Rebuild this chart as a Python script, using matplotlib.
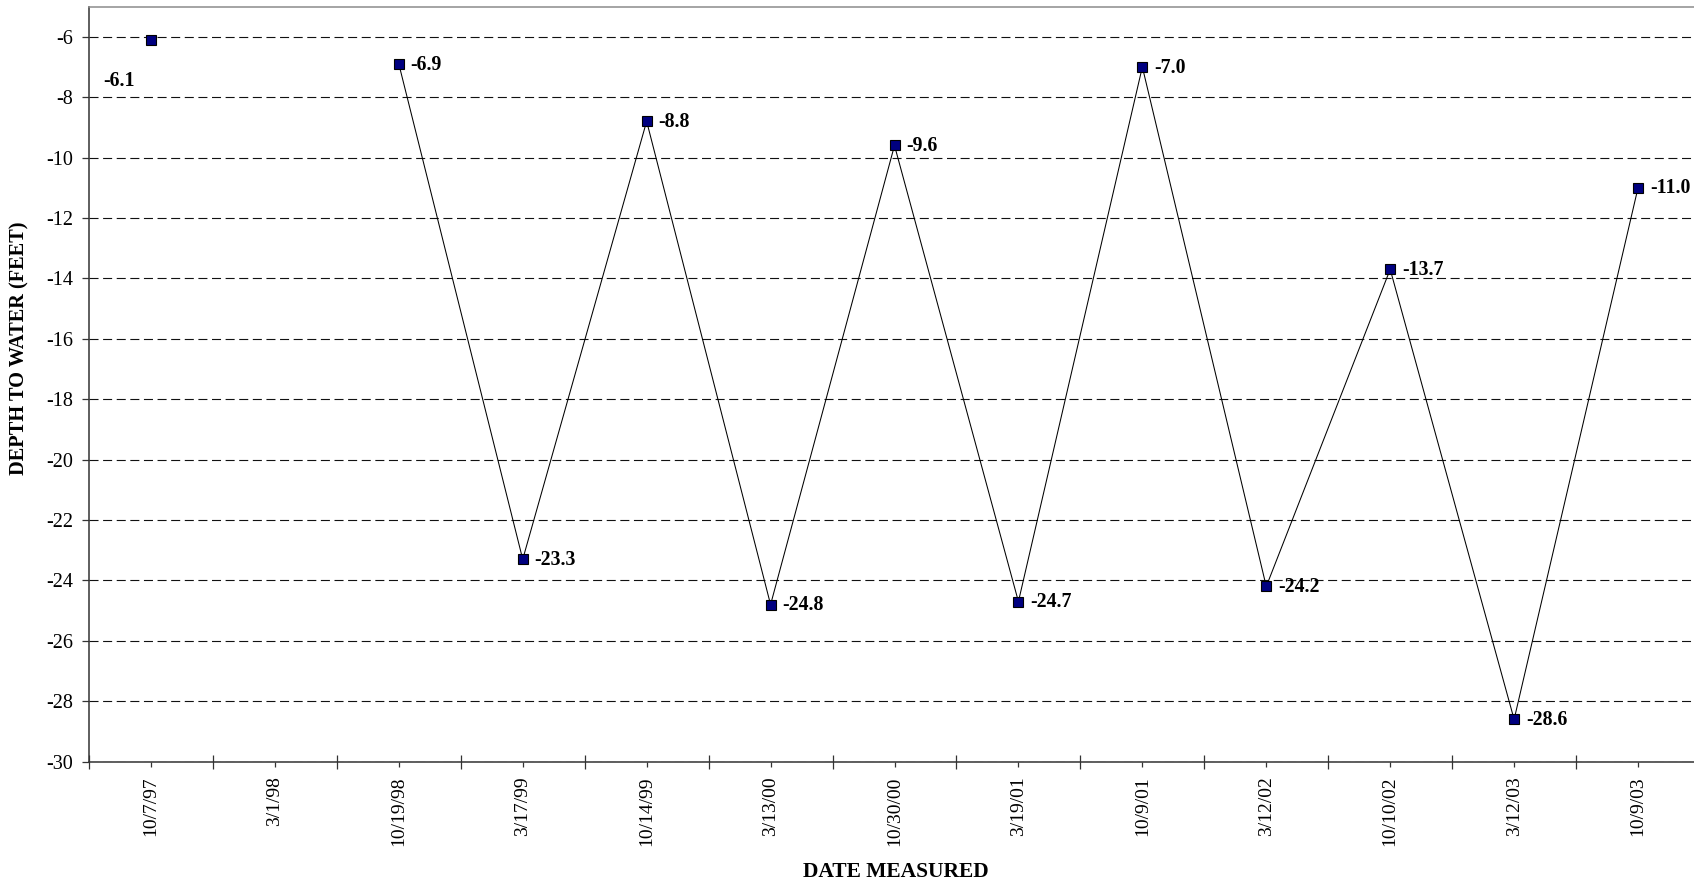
import numpy as np
import matplotlib
matplotlib.use("Agg")
import matplotlib.pyplot as plt
from matplotlib.ticker import FixedLocator, NullFormatter

plt.rcParams["font.family"] = ["Liberation Serif", "DejaVu Serif"]
plt.rcParams["lines.scale_dashes"] = False

# Measurement dates (categorical) and depth to water in feet; 3/1/98 has no reading
dates = ["10/7/97", "3/1/98", "10/19/98", "3/17/99", "10/14/99", "3/13/00",
         "10/30/00", "3/19/01", "10/9/01", "3/12/02", "10/10/02", "3/12/03",
         "10/9/03"]
depths = [-6.1, np.nan, -6.9, -23.3, -8.8, -24.8, -9.6, -24.7, -7.0, -24.2,
          -13.7, -28.6, -11.0]
y_ticks = list(range(-30, -5, 2))

W, H = 1694, 886
fig = plt.figure(figsize=(W / 100, H / 100), dpi=100)
left_px, right_px, top_px, bottom_px = 89, 1700, 6.5, 761.7
ax = fig.add_axes([left_px / W, 1 - bottom_px / H,
                   (right_px - left_px) / W, (bottom_px - top_px) / H])

x = np.arange(len(dates))
y = np.array(depths, dtype=float)

# dashed horizontal gridlines
ax.set_axisbelow(True)
ax.yaxis.grid(True, color="#111111", linewidth=0.8, linestyle=(0, (6.5, 3.3)))

ax.plot(x, y, color="black", linewidth=0.75, marker="s", markersize=7.3,
        markerfacecolor="#000080", markeredgecolor="black",
        markeredgewidth=0.8, zorder=3)

# value labels
for i, v in enumerate(y):
    if np.isnan(v):
        continue
    if i == 0:
        ax.annotate(f"{v:.1f}", (x[i], v), xytext=(-23, -29.5),
                    textcoords="offset points", ha="center", va="center",
                    fontsize=14.3, fontweight="bold")
    else:
        ax.annotate(f"{v:.1f}", (x[i], v), xytext=(8.5, -0.5),
                    textcoords="offset points", ha="left", va="center",
                    fontsize=14.3, fontweight="bold")

ax.set_xlim(-0.5, len(dates) - 0.5)
ax.set_ylim(-30, -5)
ax.set_yticks(y_ticks)
ax.set_yticklabels([str(t) for t in y_ticks])

ax.set_xticks(x)
ax.set_xticklabels(dates, rotation=90)
ax.xaxis.set_minor_locator(FixedLocator(np.arange(-0.5, len(dates), 1.0)))
ax.xaxis.set_minor_formatter(NullFormatter())

ax.tick_params(axis="x", which="major", direction="out", length=3.6,
               width=0.9, color="#333333", pad=7, labelsize=14)
ax.tick_params(axis="x", which="minor", direction="inout", length=9.5,
               width=0.9, color="#333333")
ax.tick_params(axis="y", which="major", direction="out", length=5,
               width=0.9, color="#333333", pad=6.5, labelsize=14.5)

for side in ("left", "bottom"):
    ax.spines[side].set_color("#333333")
    ax.spines[side].set_linewidth(1.1)
ax.spines["top"].set_color("#8c8c8c")
ax.spines["top"].set_linewidth(1.1)
ax.spines["right"].set_visible(False)

ax.set_xlabel("DATE MEASURED", fontsize=15.5, fontweight="bold")
ax.xaxis.label.set_va("center")
ax.xaxis.set_label_coords((896 - left_px) / (right_px - left_px),
                          (bottom_px - 872) / (bottom_px - top_px))
ax.set_ylabel("DEPTH TO WATER (FEET)", fontsize=14.7, fontweight="bold")
ax.yaxis.label.set_va("center")
ax.yaxis.set_label_coords((19.5 - left_px) / (right_px - left_px), 0.548)

fig.savefig("out.png", dpi=100)
